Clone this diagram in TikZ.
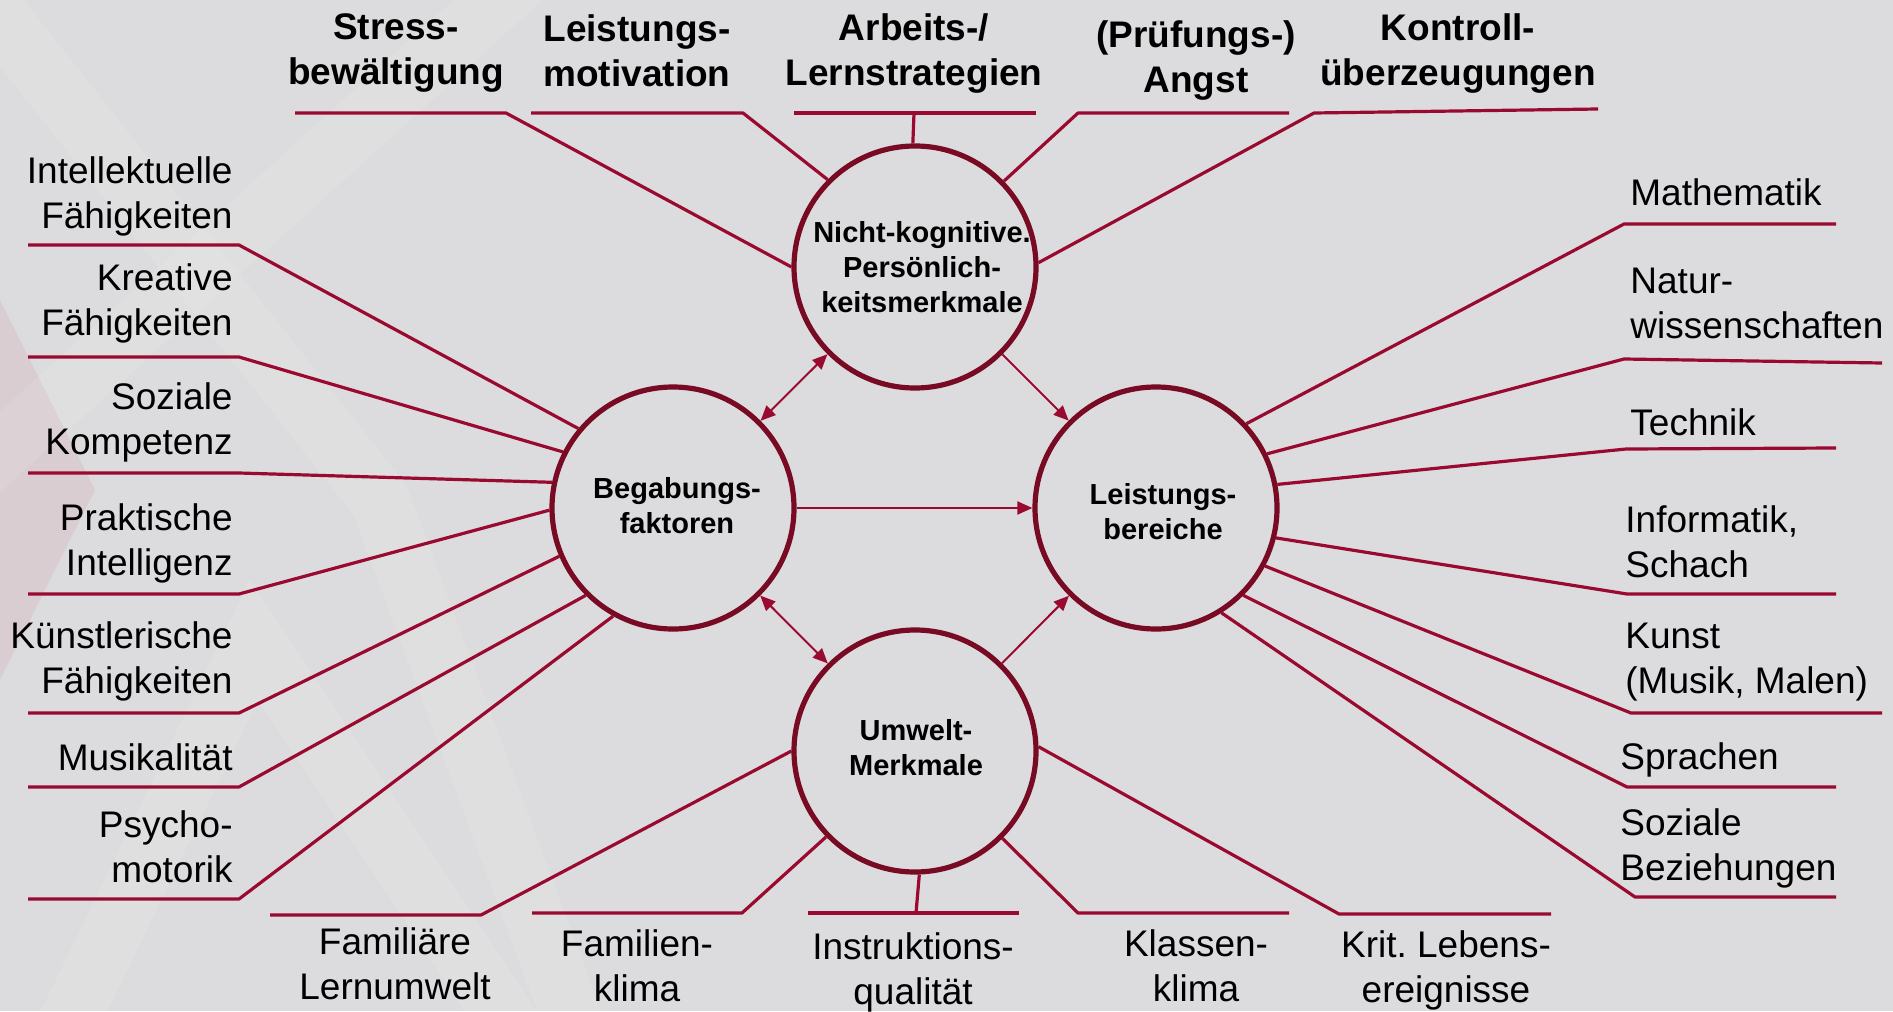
\documentclass[tikz,border=0pt]{standalone}
\usepackage{fontspec}
\setmainfont{Liberation Sans}
\usetikzlibrary{arrows.meta}
\frenchspacing
\definecolor{bgc}{HTML}{DCDCDE}
\definecolor{lnc}{HTML}{9A0A30}
\definecolor{crc}{HTML}{780A24}
\definecolor{pinkc}{HTML}{D9CDD1}
\newcommand{\labL}[1]{\begin{tabular}[t]{@{}r@{}}#1\end{tabular}}
\newcommand{\labR}[1]{\begin{tabular}[t]{@{}l@{}}#1\end{tabular}}
\newcommand{\labC}[1]{\begin{tabular}[t]{@{}c@{}}#1\end{tabular}}
\tikzset{
  conn/.style={draw=lnc, line width=1.6pt, line join=round},
  hub/.style={circle, draw=crc, line width=2.6pt, minimum size=121pt, inner sep=0pt},
  hubtxt/.style={inner sep=0pt, anchor=base, font=\fontsize{14.5}{17.5}\selectfont\bfseries},
  arr/.style={draw=lnc, line width=1pt, -{Triangle[length=7.5pt,width=6.5pt]}},
  darr/.style={draw=lnc, line width=1pt, {Triangle[length=7.5pt,width=6.5pt]}-{Triangle[length=7.5pt,width=6.5pt]}},
  lbl/.style={inner sep=0pt, font=\fontsize{18.5}{22.5}\selectfont},
  blbl/.style={inner sep=0pt, anchor=base, font=\fontsize{18.5}{22.5}\selectfont\bfseries},
  band/.style={draw=white, opacity=0.09, line width=30pt, line join=miter},
}
\begin{document}
\begin{tikzpicture}[x=0.5pt,y=-0.5pt]
\useasboundingbox (0,0) rectangle (1893,1011);
% background and faint watermark
\fill[bgc] (0,0) rectangle (1893,1011);
\fill[pinkc] (0,300) -- (95,490) -- (0,680) -- cycle;
\draw[band] (-30,-20) -- (380,500) -- (580,1040);
\draw[band] (520,-20) -- (-20,470);
\draw[band] (60,1040) -- (254,640) -- (520,1040);

% hubs
\node[hub] (B) at (673,508) {};
\node[hub] (L) at (1156,508) {};
\node[hub] (N) at (915,267) {};
\node[hub] (U) at (915,751) {};
\node[hubtxt] (Bt) at (677,498) {\labC{Begabungs-\\faktoren}};
\node[hubtxt] (Lt) at (1163,504) {\labC{Leistungs-\\bereiche}};
\node[hubtxt] (Nt) at (922,242) {\labC{Nicht-kognitive.\\Persönlich-\\keitsmerkmale}};
\node[hubtxt] (Ut) at (916,740) {\labC{Umwelt-\\Merkmale}};

% arrows between hubs
\draw[arr] (B) -- (L);
\draw[arr] (N) -- (L);
\draw[arr] (U) -- (L);
\draw[darr] (B) -- (N);
\draw[darr] (B) -- (U);

% left labels
\node[lbl, anchor=base east] (a1) at (233,183) {\labL{Intellektuelle\\Fähigkeiten}};
\node[lbl, anchor=base east] (a2) at (233,290) {\labL{Kreative\\Fähigkeiten}};
\node[lbl, anchor=base east] (a3) at (233,409) {\labL{Soziale\\Kompetenz}};
\node[lbl, anchor=base east] (a4) at (233,530) {\labL{Praktische\\Intelligenz}};
\node[lbl, anchor=base east] (a5) at (233,648) {\labL{Künstlerische\\Fähigkeiten}};
\node[lbl, anchor=base east] (a6) at (233,770) {\labL{Musikalität}};
\node[lbl, anchor=base east] (a7) at (233,837) {\labL{Psycho-\\motorik}};
\coordinate (a1l) at (28,245); \coordinate (a1r) at (239,245);
\coordinate (a2l) at (28,357); \coordinate (a2r) at (239,357);
\coordinate (a3l) at (28,473); \coordinate (a3r) at (239,473);
\coordinate (a4l) at (28,594); \coordinate (a4r) at (239,594);
\coordinate (a5l) at (28,713); \coordinate (a5r) at (239,713);
\coordinate (a6l) at (28,787); \coordinate (a6r) at (239,787);
\coordinate (a7l) at (28,899); \coordinate (a7r) at (239,899);
\draw[conn] (a1l) -- (a1r) -- (B.140.6);
\draw[conn] (a2l) -- (a2r) -- (B.153.4);
\draw[conn] (a3l) -- (a3r) -- (B.168);
\draw[conn] (a4l) -- (a4r) -- (B.181);
\draw[conn] (a5l) -- (a5r) -- (B.203.3);
\draw[conn] (a6l) -- (a6r) -- (B.225.3);
\draw[conn] (a7l) -- (a7r) -- (B.241);

% top labels
\node[blbl] (t1) at (396,40) {\labC{Stress-\\bewältigung}};
\node[blbl] (t2) at (637,42) {\labC{Leistungs-\\motivation}};
\node[blbl] (t3) at (914,41) {\labC{Arbeits-/\\Lernstrategien}};
\node[blbl] (t4) at (1196,48) {\labC{(Prüfungs-)\\Angst}};
\node[blbl] (t5) at (1458,41) {\labC{Kontroll-\\überzeugungen}};
\coordinate (t1l) at (295,113); \coordinate (t1r) at (506,113);
\coordinate (t2l) at (531,113); \coordinate (t2r) at (743,113);
\coordinate (t3l) at (794,113); \coordinate (t3r) at (1036,113); \coordinate (t3m) at (914,113);
\coordinate (t4l) at (1078,113); \coordinate (t4r) at (1289,113);
\coordinate (t5l) at (1314,113); \coordinate (t5r) at (1598,109);
\draw[conn] (t1l) -- (t1r) -- (N.180);
\draw[conn] (t2l) -- (t2r) -- (N.135.3);
\draw[conn] (t3l) -- (t3r);
\draw[conn] (t3m) -- (N.91);
\draw[conn] (t4r) -- (t4l) -- (N.44.7);
\draw[conn] (t5r) -- (t5l) -- (N.2);

% bottom labels
\node[lbl, anchor=base] (b1) at (395,954) {\labC{Familiäre\\Lernumwelt}};
\node[lbl, anchor=base] (b2) at (637,956) {\labC{Familien-\\klima}};
\node[lbl, anchor=base] (b3) at (913,959) {\labC{Instruktions-\\qualität}};
\node[lbl, anchor=base] (b4) at (1196,956) {\labC{Klassen-\\klima}};
\node[lbl, anchor=base] (b5) at (1446,957) {\labC{Krit. Lebens-\\ereignisse}};
\coordinate (b1l) at (270,915); \coordinate (b1r) at (481,915);
\coordinate (b2l) at (532,913); \coordinate (b2r) at (742,913);
\coordinate (b3l) at (808,913); \coordinate (b3r) at (1019,913); \coordinate (b3m) at (916,913);
\coordinate (b4l) at (1078,913); \coordinate (b4r) at (1289,913);
\coordinate (b5l) at (1339,914); \coordinate (b5r) at (1551,914);
\draw[conn] (b1l) -- (b1r) -- (U.180);
\draw[conn] (b2l) -- (b2r) -- (U.224.3);
\draw[conn] (b3l) -- (b3r);
\draw[conn] (b3m) -- (U.272);
\draw[conn] (b4r) -- (b4l) -- (U.315.3);
\draw[conn] (b5r) -- (b5l) -- (U.2);

% right labels
\node[lbl, anchor=base west] (r1) at (1630,205) {\labR{Mathematik}};
\node[lbl, anchor=base west] (r2) at (1630,293) {\labR{Natur-\\wissenschaften}};
\node[lbl, anchor=base west] (r3) at (1630,435) {\labR{Technik}};
\node[lbl, anchor=base west] (r4) at (1625,532) {\labR{Informatik,\\Schach}};
\node[lbl, anchor=base west] (r5) at (1625,648) {\labR{Kunst\\(Musik, Malen)}};
\node[lbl, anchor=base west] (r6) at (1620,769) {\labR{Sprachen}};
\node[lbl, anchor=base west] (r7) at (1620,835) {\labR{Soziale\\Beziehungen}};
\coordinate (r1l) at (1624,224); \coordinate (r1r) at (1836,224);
\coordinate (r2l) at (1624,359); \coordinate (r2r) at (1882,363);
\coordinate (r3l) at (1626,449); \coordinate (r3r) at (1836,448);
\coordinate (r4l) at (1627,594); \coordinate (r4r) at (1836,594);
\coordinate (r5l) at (1631,713); \coordinate (r5r) at (1882,713);
\coordinate (r6l) at (1627,787); \coordinate (r6r) at (1836,787);
\coordinate (r7l) at (1635,897); \coordinate (r7r) at (1836,897);
\draw[conn] (r1r) -- (r1l) -- (L.43.7);
\draw[conn] (r2r) -- (r2l) -- (L.26.8);
\draw[conn] (r3r) -- (r3l) -- (L.11.8);
\draw[conn] (r4r) -- (r4l) -- (L.-14.1);
\draw[conn] (r5r) -- (r5l) -- (L.-28.8);
\draw[conn] (r6r) -- (r6l) -- (L.-45.3);
\draw[conn] (r7r) -- (r7l) -- (L.-58.3);
\end{tikzpicture}
\end{document}
